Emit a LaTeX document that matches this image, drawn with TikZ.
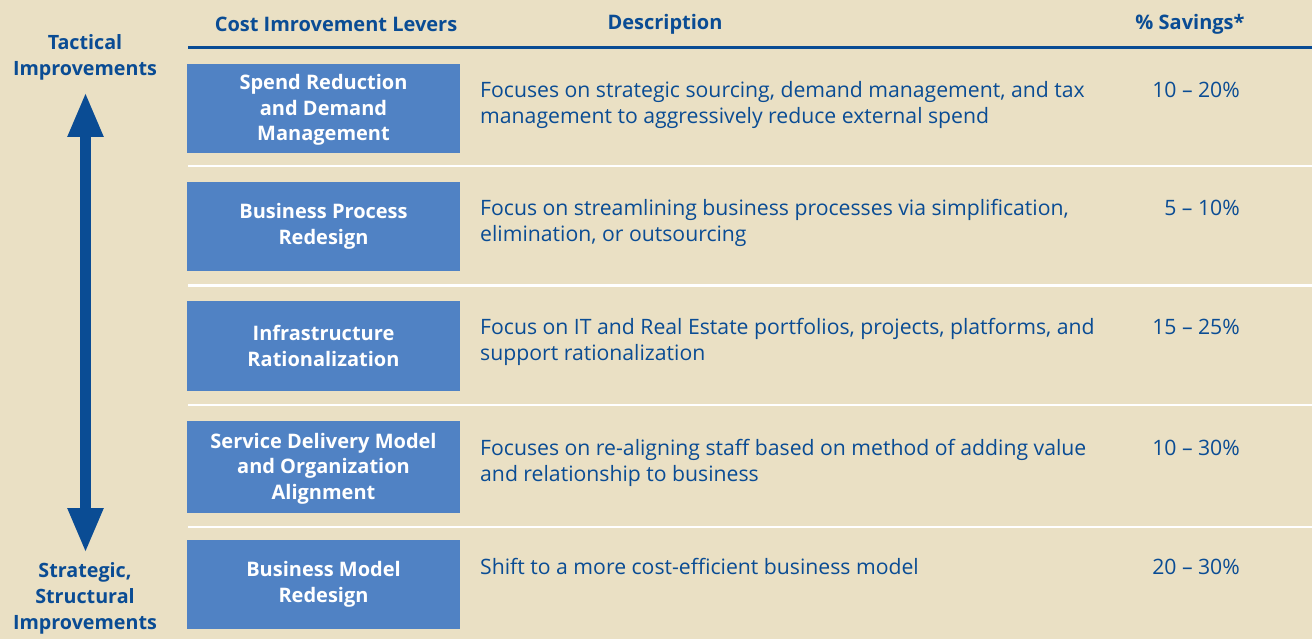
\documentclass[tikz,border=0pt]{standalone}
\usepackage{fontspec}
\setmainfont{Open Sans}
\usetikzlibrary{arrows.meta}
\definecolor{bg}{RGB}{234,224,196}
\definecolor{dblue}{RGB}{10,76,148}
\definecolor{boxblue}{RGB}{80,130,196}
\tikzset{
  hdr/.style={font=\fontsize{20}{24}\selectfont\bfseries, text=dblue, inner sep=0pt},
  side/.style={font=\fontsize{19.7}{26}\selectfont\bfseries, text=dblue, align=center, inner sep=0pt},
  lever/.style={fill=boxblue, minimum width=273pt, inner sep=0pt, text=white,
    font=\fontsize{20}{25.5}\selectfont\bfseries, align=center},
  desc/.style={font=\fontsize{21.2}{26}\selectfont, text=dblue, align=left, anchor=base west, inner sep=0pt},
  pct/.style={font=\fontsize{21.2}{26}\selectfont, text=dblue, anchor=base east, inner sep=0pt},
  sep/.style={draw=white, line width=2.5pt},
}
\begin{document}
\begin{tikzpicture}[x=1pt,y=-1pt]
\fill[bg] (0,0) rectangle (1312,639);
\useasboundingbox (0,0) rectangle (1312,639);
% header
\node[hdr] (h1) at (336,24.5) {Cost Imrovement Levers};
\node[hdr] (h2) at (665,24.5) {Description};
\node[hdr] (h3) at (1190,24.5) {\% Savings*};
\coordinate (hl1) at (188,47.5);
\coordinate (hl2) at (1312,47.5);
\draw[dblue, line width=3pt] (hl1) -- (hl2);
% separators
\foreach \y [count=\i] in {166,285.5,405,527}{
  \coordinate (sa\i) at (188,\y);
  \coordinate (sb\i) at (1312,\y);
  \draw[sep] (sa\i) -- (sb\i);
}
% lever boxes
\node[lever, minimum height=89pt] (b1) at (323.5,108.5) {\strut Spend Reduction\\and Demand\\Management};
\node[lever, minimum height=89pt] (b2) at (323.5,226.5) {Business Process\\Redesign};
\node[lever, minimum height=90pt] (b3) at (323.5,346) {Infrastructure\\Rationalization};
\node[lever, minimum height=92pt] (b4) at (323.5,467) {\strut Service Delivery Model\\and Organization\\Alignment};
\node[lever, minimum height=89pt] (b5) at (323.5,584.5) {Business Model\\Redesign};
% descriptions (base anchor = last line's baseline)
\node[desc] (d1) at (480,123.5) {Focuses on strategic sourcing, demand management, and tax\\management to aggressively reduce external spend};
\node[desc] (d2) at (480,241.5) {Focus on streamlining business processes via simplification,\\elimination, or outsourcing};
\node[desc] (d3) at (480,360.5) {Focus on IT and Real Estate portfolios, projects, platforms, and\\support rationalization};
\node[desc] (d4) at (480,481.5) {Focuses on re-aligning staff based on method of adding value\\and relationship to business};
\node[desc] (d5) at (480,574) {Shift to a more cost-efficient business model};
% percentages
\node[pct] (p1) at (1240,97.5) {10 – 20\%};
\node[pct] (p2) at (1240,215.5) {5 – 10\%};
\node[pct] (p3) at (1240,334.5) {15 – 25\%};
\node[pct] (p4) at (1240,455.5) {10 – 30\%};
\node[pct] (p5) at (1240,574) {20 – 30\%};
% side labels and arrow
\node[side] (tac) at (85,57) {Tactical\\Improvements};
\node[side] (str) at (85,598) {Strategic,\\Structural\\Improvements};
\coordinate (atop) at (85.5,92);
\coordinate (abot) at (85.5,553);
\draw[dblue, line width=11pt, {Triangle[length=45pt,width=33pt]}-{Triangle[length=45pt,width=33pt]}] (atop) -- (abot);
\end{tikzpicture}
\end{document}
